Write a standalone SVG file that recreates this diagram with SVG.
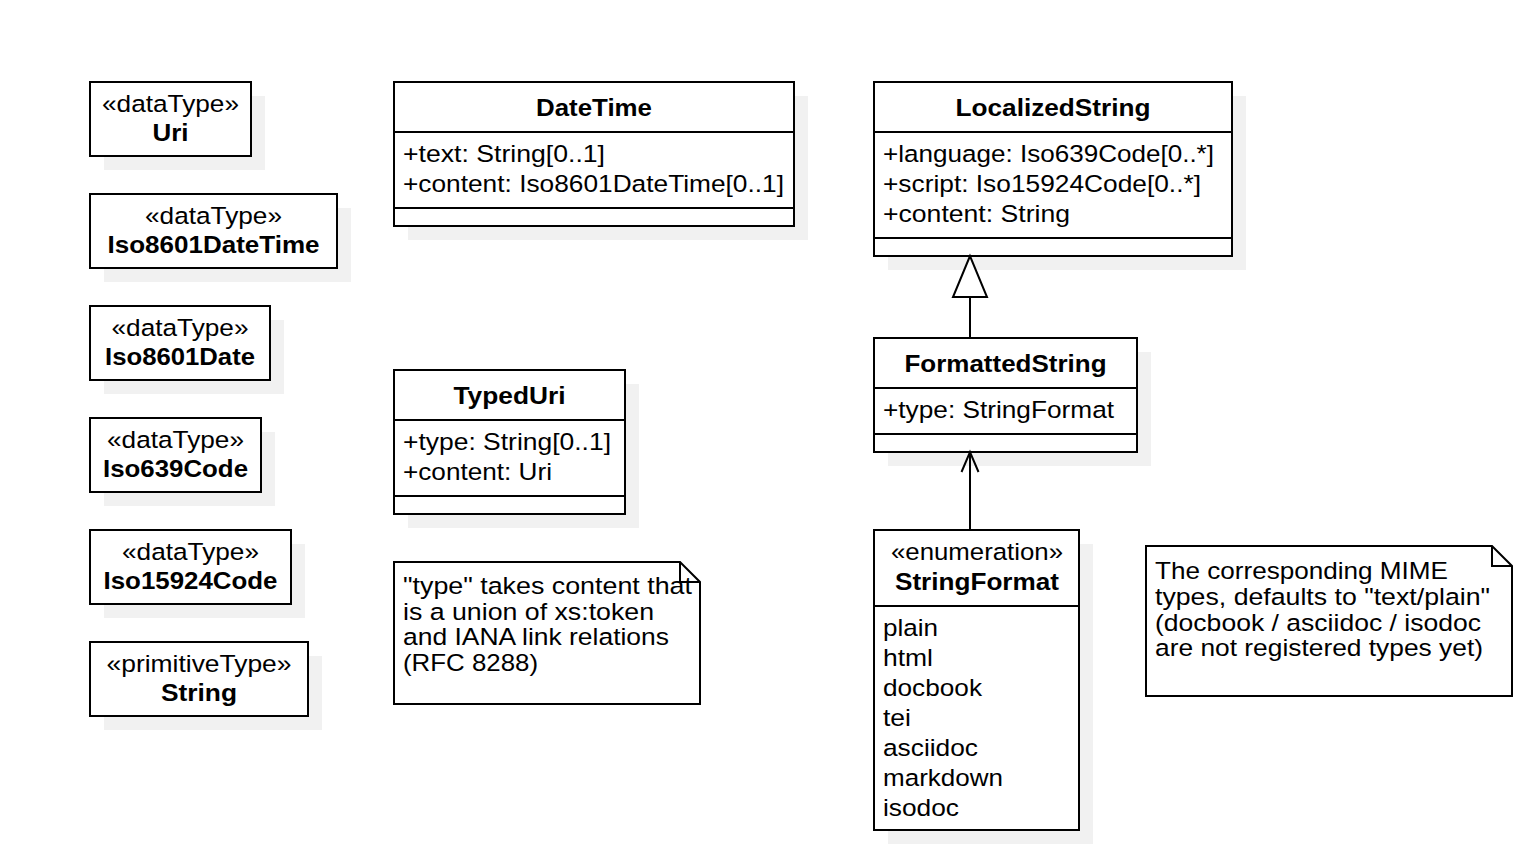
<svg xmlns="http://www.w3.org/2000/svg" width="1524" height="848" viewBox="0 0 1524 848">
<style>
.bg{fill:#ffffff}
.sh{fill:#f1f1f1}
.box{fill:#ffffff;stroke:#000000;stroke-width:2}
.ln{stroke:#000000;stroke-width:2;fill:none}
.t{font-family:"Liberation Sans",Arial,sans-serif;font-size:24.5px;fill:#000000}
.b{font-weight:bold}
.c{text-anchor:middle}
</style>
<rect class="bg" x="0" y="0" width="1524" height="848"/>

<g id="Uri">
<rect class="sh" x="104" y="96" width="161" height="74"/>
<rect class="box" x="90" y="82" width="161" height="74"/>
<text class="t c" x="170.5" y="112" textLength="137" lengthAdjust="spacingAndGlyphs">«dataType»</text>
<text class="t b c" x="170.5" y="141" textLength="36" lengthAdjust="spacingAndGlyphs">Uri</text>
</g>

<g id="Iso8601DateTime">
<rect class="sh" x="104" y="208" width="247" height="74"/>
<rect class="box" x="90" y="194" width="247" height="74"/>
<text class="t c" x="213.5" y="224" textLength="137" lengthAdjust="spacingAndGlyphs">«dataType»</text>
<text class="t b c" x="213.5" y="253" textLength="212" lengthAdjust="spacingAndGlyphs">Iso8601DateTime</text>
</g>

<g id="Iso8601Date">
<rect class="sh" x="104" y="320" width="180" height="74"/>
<rect class="box" x="90" y="306" width="180" height="74"/>
<text class="t c" x="180" y="336" textLength="137" lengthAdjust="spacingAndGlyphs">«dataType»</text>
<text class="t b c" x="180" y="365" textLength="150" lengthAdjust="spacingAndGlyphs">Iso8601Date</text>
</g>

<g id="Iso639Code">
<rect class="sh" x="104" y="432" width="171" height="74"/>
<rect class="box" x="90" y="418" width="171" height="74"/>
<text class="t c" x="175.5" y="448" textLength="137" lengthAdjust="spacingAndGlyphs">«dataType»</text>
<text class="t b c" x="175.5" y="477" textLength="145" lengthAdjust="spacingAndGlyphs">Iso639Code</text>
</g>

<g id="Iso15924Code">
<rect class="sh" x="104" y="544" width="201" height="74"/>
<rect class="box" x="90" y="530" width="201" height="74"/>
<text class="t c" x="190.5" y="560" textLength="137" lengthAdjust="spacingAndGlyphs">«dataType»</text>
<text class="t b c" x="190.5" y="589" textLength="174" lengthAdjust="spacingAndGlyphs">Iso15924Code</text>
</g>

<g id="String">
<rect class="sh" x="104" y="656" width="218" height="74"/>
<rect class="box" x="90" y="642" width="218" height="74"/>
<text class="t c" x="199" y="672" textLength="185" lengthAdjust="spacingAndGlyphs">«primitiveType»</text>
<text class="t b c" x="199" y="701" textLength="76" lengthAdjust="spacingAndGlyphs">String</text>
</g>

<g id="DateTime">
<rect class="sh" x="408" y="96" width="400" height="144"/>
<rect class="box" x="394" y="82" width="400" height="144"/>
<line class="ln" x1="394" y1="132" x2="794" y2="132"/>
<line class="ln" x1="394" y1="208" x2="794" y2="208"/>
<text class="t b c" x="594" y="116" textLength="116" lengthAdjust="spacingAndGlyphs">DateTime</text>
<text class="t" x="403" y="161.5" textLength="202" lengthAdjust="spacingAndGlyphs">+text: String[0..1]</text>
<text class="t" x="403" y="191.5" textLength="381" lengthAdjust="spacingAndGlyphs">+content: Iso8601DateTime[0..1]</text>
</g>

<g id="LocalizedString">
<rect class="sh" x="888" y="96" width="358" height="174"/>
<rect class="box" x="874" y="82" width="358" height="174"/>
<line class="ln" x1="874" y1="132" x2="1232" y2="132"/>
<line class="ln" x1="874" y1="238" x2="1232" y2="238"/>
<text class="t b c" x="1053" y="116" textLength="195" lengthAdjust="spacingAndGlyphs">LocalizedString</text>
<text class="t" x="883" y="161.5" textLength="331" lengthAdjust="spacingAndGlyphs">+language: Iso639Code[0..*]</text>
<text class="t" x="883" y="191.5" textLength="318" lengthAdjust="spacingAndGlyphs">+script: Iso15924Code[0..*]</text>
<text class="t" x="883" y="221.5" textLength="187" lengthAdjust="spacingAndGlyphs">+content: String</text>
</g>

<g id="TypedUri">
<rect class="sh" x="408" y="384" width="231" height="144"/>
<rect class="box" x="394" y="370" width="231" height="144"/>
<line class="ln" x1="394" y1="420" x2="625" y2="420"/>
<line class="ln" x1="394" y1="496" x2="625" y2="496"/>
<text class="t b c" x="509.5" y="404" textLength="112" lengthAdjust="spacingAndGlyphs">TypedUri</text>
<text class="t" x="403" y="449.5" textLength="208" lengthAdjust="spacingAndGlyphs">+type: String[0..1]</text>
<text class="t" x="403" y="479.5" textLength="149" lengthAdjust="spacingAndGlyphs">+content: Uri</text>
</g>

<g id="FormattedString">
<rect class="sh" x="888" y="352" width="263" height="114"/>
<rect class="box" x="874" y="338" width="263" height="114"/>
<line class="ln" x1="874" y1="388" x2="1137" y2="388"/>
<line class="ln" x1="874" y1="434" x2="1137" y2="434"/>
<text class="t b c" x="1005.5" y="372" textLength="202" lengthAdjust="spacingAndGlyphs">FormattedString</text>
<text class="t" x="883" y="417.5" textLength="231" lengthAdjust="spacingAndGlyphs">+type: StringFormat</text>
</g>

<g id="StringFormat">
<rect class="sh" x="888" y="544" width="205" height="300"/>
<rect class="box" x="874" y="530" width="205" height="300"/>
<line class="ln" x1="874" y1="606" x2="1079" y2="606"/>
<text class="t c" x="977" y="560" textLength="172" lengthAdjust="spacingAndGlyphs">«enumeration»</text>
<text class="t b c" x="977" y="590" textLength="164" lengthAdjust="spacingAndGlyphs">StringFormat</text>
<text class="t" x="883" y="635.5" textLength="55" lengthAdjust="spacingAndGlyphs">plain</text>
<text class="t" x="883" y="665.5" textLength="50" lengthAdjust="spacingAndGlyphs">html</text>
<text class="t" x="883" y="695.5" textLength="99" lengthAdjust="spacingAndGlyphs">docbook</text>
<text class="t" x="883" y="725.5" textLength="28" lengthAdjust="spacingAndGlyphs">tei</text>
<text class="t" x="883" y="755.5" textLength="95" lengthAdjust="spacingAndGlyphs">asciidoc</text>
<text class="t" x="883" y="785.5" textLength="120" lengthAdjust="spacingAndGlyphs">markdown</text>
<text class="t" x="883" y="815.5" textLength="76" lengthAdjust="spacingAndGlyphs">isodoc</text>
</g>

<g id="NoteTypedUri">
<path class="box" d="M394,562 H680 L700,582 V704 H394 Z"/>
<path class="ln" d="M680,562 V582 H700"/>
<text class="t" x="403" y="594" textLength="289" lengthAdjust="spacingAndGlyphs">"type" takes content that</text>
<text class="t" x="403" y="619.5" textLength="251" lengthAdjust="spacingAndGlyphs">is a union of xs:token</text>
<text class="t" x="403" y="645" textLength="266" lengthAdjust="spacingAndGlyphs">and IANA link relations</text>
<text class="t" x="403" y="670.5" textLength="135" lengthAdjust="spacingAndGlyphs">(RFC 8288)</text>
</g>

<g id="NoteStringFormat">
<path class="box" d="M1146,546 H1492 L1512,566 V696 H1146 Z"/>
<path class="ln" d="M1492,546 V566 H1512"/>
<text class="t" x="1155" y="579" textLength="293" lengthAdjust="spacingAndGlyphs">The corresponding MIME</text>
<text class="t" x="1155" y="605" textLength="335" lengthAdjust="spacingAndGlyphs">types, defaults to "text/plain"</text>
<text class="t" x="1155" y="630.5" textLength="326" lengthAdjust="spacingAndGlyphs">(docbook / asciidoc / isodoc</text>
<text class="t" x="1155" y="656" textLength="328" lengthAdjust="spacingAndGlyphs">are not registered types yet)</text>
</g>

<g id="connectors">
<line class="ln" x1="970" y1="338" x2="970" y2="297"/>
<polygon class="box" points="970,256 953,297 987,297"/>
<line class="ln" x1="970" y1="530" x2="970" y2="453"/>
<polyline class="ln" points="961.5,472 970,452 978.5,472"/>
</g>
</svg>
